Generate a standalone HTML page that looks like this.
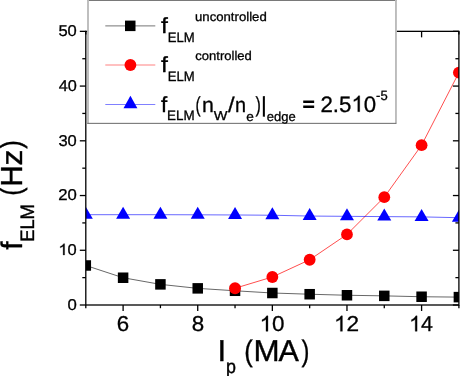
<!DOCTYPE html>
<html><head><meta charset="utf-8"><title>chart</title>
<style>html,body{margin:0;padding:0;background:#fff;overflow:hidden}svg{display:block;will-change:transform}text{font-family:"Liberation Sans",sans-serif;text-rendering:geometricPrecision;fill:#000;stroke:#000;stroke-width:0.30px}</style>
</head><body>
<svg width="466" height="376" viewBox="0 0 466 376">
<rect x="0" y="0" width="466" height="376" fill="#fff"/>
<defs><clipPath id="plot"><rect x="85.80" y="31.35" width="373.10" height="273.65"/></clipPath></defs>
<g clip-path="url(#plot)">
<polyline points="85.80,265.48 123.11,277.74 160.42,284.37 197.73,288.36 235.04,290.77 272.35,293.01 309.66,294.22 346.97,295.26 384.28,295.86 421.59,296.74 458.90,297.12" fill="none" stroke="#000" stroke-width="0.6"/>
<rect x="80.55" y="260.23" width="10.5" height="10.5" fill="#000"/>
<rect x="117.86" y="272.49" width="10.5" height="10.5" fill="#000"/>
<rect x="155.17" y="279.12" width="10.5" height="10.5" fill="#000"/>
<rect x="192.48" y="283.11" width="10.5" height="10.5" fill="#000"/>
<rect x="229.79" y="285.52" width="10.5" height="10.5" fill="#000"/>
<rect x="267.10" y="287.76" width="10.5" height="10.5" fill="#000"/>
<rect x="304.41" y="288.97" width="10.5" height="10.5" fill="#000"/>
<rect x="341.72" y="290.01" width="10.5" height="10.5" fill="#000"/>
<rect x="379.03" y="290.61" width="10.5" height="10.5" fill="#000"/>
<rect x="416.34" y="291.49" width="10.5" height="10.5" fill="#000"/>
<rect x="453.65" y="291.87" width="10.5" height="10.5" fill="#000"/>
<polyline points="235.04,288.25 272.35,276.98 309.66,259.74 346.97,234.45 384.28,197.18 421.59,145.19 458.90,72.62" fill="none" stroke="#ff0000" stroke-width="0.7"/>
<circle cx="235.04" cy="288.25" r="5.9" fill="#ff0000"/>
<circle cx="272.35" cy="276.98" r="5.9" fill="#ff0000"/>
<circle cx="309.66" cy="259.74" r="5.9" fill="#ff0000"/>
<circle cx="346.97" cy="234.45" r="5.9" fill="#ff0000"/>
<circle cx="384.28" cy="197.18" r="5.9" fill="#ff0000"/>
<circle cx="421.59" cy="145.19" r="5.9" fill="#ff0000"/>
<circle cx="458.90" cy="72.62" r="5.9" fill="#ff0000"/>
<polyline points="85.80,214.70 123.11,214.70 160.42,214.70 197.73,214.80 235.04,214.97 272.35,215.24 309.66,216.06 346.97,216.34 384.28,216.61 421.59,216.88 458.90,217.71" fill="none" stroke="#0000ff" stroke-width="0.6"/>
<polygon points="85.80,206.70 78.80,218.70 92.80,218.70" fill="#0000ff"/>
<polygon points="123.11,206.70 116.11,218.70 130.11,218.70" fill="#0000ff"/>
<polygon points="160.42,206.70 153.42,218.70 167.42,218.70" fill="#0000ff"/>
<polygon points="197.73,206.80 190.73,218.80 204.73,218.80" fill="#0000ff"/>
<polygon points="235.04,206.97 228.04,218.97 242.04,218.97" fill="#0000ff"/>
<polygon points="272.35,207.24 265.35,219.24 279.35,219.24" fill="#0000ff"/>
<polygon points="309.66,208.06 302.66,220.06 316.66,220.06" fill="#0000ff"/>
<polygon points="346.97,208.34 339.97,220.34 353.97,220.34" fill="#0000ff"/>
<polygon points="384.28,208.61 377.28,220.61 391.28,220.61" fill="#0000ff"/>
<polygon points="421.59,208.88 414.59,220.88 428.59,220.88" fill="#0000ff"/>
<polygon points="458.90,209.71 451.90,221.71 465.90,221.71" fill="#0000ff"/>
</g>
<g stroke="#000" stroke-width="1.3" fill="none" stroke-linecap="butt">
<rect x="85.80" y="31.35" width="373.10" height="273.65"/>
<line x1="85.80" y1="305.00" x2="85.80" y2="308.20"/>
<line x1="85.80" y1="31.35" x2="85.80" y2="34.55"/>
<line x1="123.11" y1="305.00" x2="123.11" y2="311.00"/>
<line x1="123.11" y1="31.35" x2="123.11" y2="37.35"/>
<line x1="160.42" y1="305.00" x2="160.42" y2="308.20"/>
<line x1="160.42" y1="31.35" x2="160.42" y2="34.55"/>
<line x1="197.73" y1="305.00" x2="197.73" y2="311.00"/>
<line x1="197.73" y1="31.35" x2="197.73" y2="37.35"/>
<line x1="235.04" y1="305.00" x2="235.04" y2="308.20"/>
<line x1="235.04" y1="31.35" x2="235.04" y2="34.55"/>
<line x1="272.35" y1="305.00" x2="272.35" y2="311.00"/>
<line x1="272.35" y1="31.35" x2="272.35" y2="37.35"/>
<line x1="309.66" y1="305.00" x2="309.66" y2="308.20"/>
<line x1="309.66" y1="31.35" x2="309.66" y2="34.55"/>
<line x1="346.97" y1="305.00" x2="346.97" y2="311.00"/>
<line x1="346.97" y1="31.35" x2="346.97" y2="37.35"/>
<line x1="384.28" y1="305.00" x2="384.28" y2="308.20"/>
<line x1="384.28" y1="31.35" x2="384.28" y2="34.55"/>
<line x1="421.59" y1="305.00" x2="421.59" y2="311.00"/>
<line x1="421.59" y1="31.35" x2="421.59" y2="37.35"/>
<line x1="458.90" y1="305.00" x2="458.90" y2="308.20"/>
<line x1="458.90" y1="31.35" x2="458.90" y2="34.55"/>
<line x1="85.80" y1="305.00" x2="79.80" y2="305.00"/>
<line x1="458.90" y1="305.00" x2="452.90" y2="305.00"/>
<line x1="85.80" y1="277.63" x2="82.30" y2="277.63"/>
<line x1="458.90" y1="277.63" x2="455.40" y2="277.63"/>
<line x1="85.80" y1="250.27" x2="79.80" y2="250.27"/>
<line x1="458.90" y1="250.27" x2="452.90" y2="250.27"/>
<line x1="85.80" y1="222.91" x2="82.30" y2="222.91"/>
<line x1="458.90" y1="222.91" x2="455.40" y2="222.91"/>
<line x1="85.80" y1="195.54" x2="79.80" y2="195.54"/>
<line x1="458.90" y1="195.54" x2="452.90" y2="195.54"/>
<line x1="85.80" y1="168.18" x2="82.30" y2="168.18"/>
<line x1="458.90" y1="168.18" x2="455.40" y2="168.18"/>
<line x1="85.80" y1="140.81" x2="79.80" y2="140.81"/>
<line x1="458.90" y1="140.81" x2="452.90" y2="140.81"/>
<line x1="85.80" y1="113.44" x2="82.30" y2="113.44"/>
<line x1="458.90" y1="113.44" x2="455.40" y2="113.44"/>
<line x1="85.80" y1="86.08" x2="79.80" y2="86.08"/>
<line x1="458.90" y1="86.08" x2="452.90" y2="86.08"/>
<line x1="85.80" y1="58.72" x2="82.30" y2="58.72"/>
<line x1="458.90" y1="58.72" x2="455.40" y2="58.72"/>
<line x1="85.80" y1="31.35" x2="79.80" y2="31.35"/>
<line x1="458.90" y1="31.35" x2="452.90" y2="31.35"/>
</g>
<text transform="translate(67.48,309.70) scale(1.0671,1)" font-size="15.70">0</text>
<g transform="translate(58.45,254.97) scale(1.0500,1)">
<path transform="translate(0.00,0) scale(0.00767,-0.00767)" d="M763 0H583V1147Q518 1085 412.5 1023T223 930V1104Q373 1174.5 485 1274.5T644 1470H763Z" fill="#000" stroke="#000" stroke-width="0.30" vector-effect="non-scaling-stroke"/>
<text x="8.73" y="0" font-size="15.70">0</text>
</g>
<text transform="translate(58.21,200.24) scale(1.0652,1)" font-size="15.70">20</text>
<text transform="translate(58.43,145.51) scale(1.0523,1)" font-size="15.70">30</text>
<text transform="translate(58.68,90.78) scale(1.0373,1)" font-size="15.70">40</text>
<text transform="translate(58.39,36.05) scale(1.0549,1)" font-size="15.70">50</text>
<text transform="translate(116.74,331.30) scale(1.0358,1)" font-size="21.50">6</text>
<text transform="translate(191.70,331.30) scale(1.0391,1)" font-size="21.50">8</text>
<g transform="translate(259.61,331.30) scale(1.0416,1)">
<path transform="translate(0.00,0) scale(0.01050,-0.01050)" d="M763 0H583V1147Q518 1085 412.5 1023T223 930V1104Q373 1174.5 485 1274.5T644 1470H763Z" fill="#000" stroke="#000" stroke-width="0.30" vector-effect="non-scaling-stroke"/>
<text x="11.95" y="0" font-size="21.50">0</text>
</g>
<g transform="translate(333.99,331.30) scale(1.0504,1)">
<path transform="translate(0.00,0) scale(0.01050,-0.01050)" d="M763 0H583V1147Q518 1085 412.5 1023T223 930V1104Q373 1174.5 485 1274.5T644 1470H763Z" fill="#000" stroke="#000" stroke-width="0.30" vector-effect="non-scaling-stroke"/>
<text x="11.95" y="0" font-size="21.50">2</text>
</g>
<g transform="translate(409.11,331.30) scale(0.9975,1)">
<path transform="translate(0.00,0) scale(0.01050,-0.01050)" d="M763 0H583V1147Q518 1085 412.5 1023T223 930V1104Q373 1174.5 485 1274.5T644 1470H763Z" fill="#000" stroke="#000" stroke-width="0.30" vector-effect="non-scaling-stroke"/>
<text x="11.95" y="0" font-size="21.50">4</text>
</g>
<g transform="translate(21.9,0) rotate(-90)">
<text transform="translate(-249.85,-0.10) scale(0.9902,1)" font-size="29.80" style="stroke-width:0.38px">f</text>
<text transform="translate(-241.72,11.85) scale(0.9366,1)" font-size="19.50" style="stroke-width:0.38px">ELM</text>
<text transform="translate(-195.86,-0.70) scale(0.8335,1)" font-size="29.80" style="stroke-width:0.38px">(</text>
<text transform="translate(-186.80,-0.10) scale(0.9747,1)" font-size="30.40" style="stroke-width:0.38px">H</text>
<text transform="translate(-165.48,-0.10) scale(1.0656,1)" font-size="29.80" style="stroke-width:0.38px">z</text>
<text transform="translate(-148.75,-0.70) scale(0.8527,1)" font-size="29.80" style="stroke-width:0.38px">)</text>
</g>
<text transform="translate(217.62,361.25) scale(1.0274,1)" font-size="30.20" style="stroke-width:0.38px">I</text>
<text transform="translate(226.06,373.30) scale(0.9269,1)" font-size="19.30" style="stroke-width:0.45px">p</text>
<text transform="translate(244.29,361.35) scale(0.8591,1)" font-size="29.80" style="stroke-width:0.38px">(</text>
<text transform="translate(253.40,361.25) scale(1.0378,1)" font-size="30.20" style="stroke-width:0.38px">M</text>
<text transform="translate(278.51,361.25) scale(1.0106,1)" font-size="30.20" style="stroke-width:0.38px">A</text>
<text transform="translate(301.61,361.35) scale(0.7951,1)" font-size="29.80" style="stroke-width:0.38px">)</text>
<rect x="88.1" y="0" width="308.2" height="123.1" fill="#fff" stroke="none"/>
<line x1="87.4" y1="0.3" x2="396.9" y2="0.3" stroke="#585858" stroke-width="1"/>
<line x1="88.0" y1="0" x2="88.0" y2="123.5" stroke="#bcbcbc" stroke-width="1.9"/>
<line x1="395.95" y1="0" x2="395.95" y2="123.5" stroke="#bcbcbc" stroke-width="1.9"/>
<line x1="87.2" y1="123.35" x2="396.4" y2="123.35" stroke="#686868" stroke-width="1.0"/>
<line x1="105.3" y1="25.9" x2="155.3" y2="25.9" stroke="#000" stroke-width="0.55"/>
<rect x="125" y="20.6" width="10.5" height="10.5" fill="#000"/>
<line x1="105.3" y1="65" x2="155.3" y2="65" stroke="#f00" stroke-width="0.5"/>
<circle cx="130.4" cy="65" r="5.9" fill="#f00"/>
<line x1="105.3" y1="104.5" x2="155.3" y2="104.5" stroke="#00f" stroke-width="0.5"/>
<polygon points="130.4,95.8 123.5,108.2 137.4,108.2" fill="#00f"/>
<text transform="translate(161.03,32.75) scale(1.1338,1)" font-size="21.80">f</text>
<text transform="translate(167.77,42.25) scale(0.9578,1)" font-size="13.70">ELM</text>
<text transform="translate(194.99,20.80) scale(1.0375,1)" font-size="12.70">uncontrolled</text>
<text transform="translate(161.03,72.40) scale(1.1338,1)" font-size="21.80">f</text>
<text transform="translate(167.77,80.90) scale(0.9578,1)" font-size="13.70">ELM</text>
<text transform="translate(195.30,59.85) scale(1.0275,1)" font-size="12.70">controlled</text>
<text transform="translate(161.06,112.15) scale(1.0299,1)" font-size="21.80">f</text>
<text transform="translate(167.04,120.40) scale(0.9810,1)" font-size="13.70">ELM</text>
<text transform="translate(195.59,112.15) scale(0.7143,1)" font-size="21.60">(</text>
<text transform="translate(202.01,112.15) scale(1.0192,1)" font-size="20.90">n</text>
<text transform="translate(213.78,120.40) scale(1.1189,1)" font-size="13.00">W</text>
<text transform="translate(228.05,112.15) scale(1.1166,1)" font-size="21.30">/</text>
<text transform="translate(234.91,112.15) scale(0.9513,1)" font-size="20.90">n</text>
<text transform="translate(246.17,120.50) scale(1.0475,1)" font-size="13.00">e</text>
<text transform="translate(255.53,112.15) scale(0.7407,1)" font-size="21.60">)</text>
<text transform="translate(261.02,112.15) scale(1.0417,1)" font-size="21.60">|</text>
<text transform="translate(266.80,120.50) scale(1.0004,1)" font-size="13.00">edge</text>
<text transform="translate(302.68,111.00) scale(0.9909,1)" font-size="20.60" style="stroke-width:1.00px">=</text>
<g transform="translate(320.44,111.70) scale(1.0041,1)">
<text x="0.00" y="0" font-size="22.20">2</text>
<text x="12.34" y="0" font-size="22.20">.</text>
<text x="18.51" y="0" font-size="22.20">5</text>
<path transform="translate(30.86,0) scale(0.01084,-0.01084)" d="M763 0H583V1147Q518 1085 412.5 1023T223 930V1104Q373 1174.5 485 1274.5T644 1470H763Z" fill="#000" stroke="#000" stroke-width="0.30" vector-effect="non-scaling-stroke"/>
<text x="43.20" y="0" font-size="22.20">0</text>
</g>
<text transform="translate(376.06,99.60) scale(0.9718,1)" font-size="13.40">-5</text>
</svg></body></html>
